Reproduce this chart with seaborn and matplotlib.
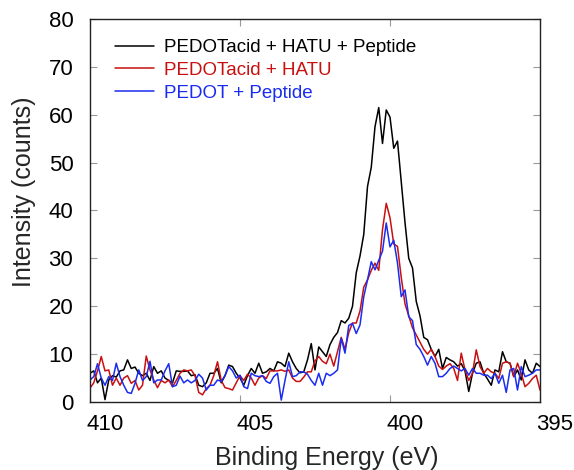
import numpy as np
import pandas as pd
import matplotlib
matplotlib.use("Agg")
import matplotlib.pyplot as plt
import matplotlib.transforms as mtransforms
import seaborn as sns

# ---- data ----
energy_start = 410.0   # eV, first channel
energy_step = 0.125    # eV per channel (decreasing binding energy)

black_counts = [
    6.0, 6.5, 4.0, 5.0, 0.5, 4.6, 5.5, 5.2, 6.5, 6.7, 8.8, 7.0, 7.3, 6.0, 5.5, 6.0, 4.5, 7.4, 6.0, 6.5, 5.0, 4.5, 4.0, 6.5,
    6.4, 6.4, 6.5, 5.5, 5.7, 3.5, 3.2, 4.0, 6.0, 6.0, 7.0, 4.0, 5.5, 7.7, 7.4, 6.0, 5.0, 3.5, 5.5, 7.0, 6.0, 8.1, 6.0, 6.3,
    7.0, 6.5, 8.4, 8.1, 7.4, 10.2, 8.4, 7.0, 6.1, 6.3, 8.8, 12.2, 6.7,
    11.5, 10.5, 9.5, 12, 13.5, 14.5, 17, 16.5, 17.5, 20, 27, 30.5, 35, 45, 49, 57.5, 61.5, 54, 61, 59.5,
    53, 54.5, 46, 37.5, 30, 28, 21, 18, 13.5, 13, 11, 9.5, 11,
    7, 9.3, 8.8, 8.4, 7.5, 8, 6.5, 2.2, 6.0, 8.1, 8.4, 6.0, 4.8, 3.5, 6.7, 6.3, 10.5, 8.4, 8.1, 5.3,
    6.7, 4.6, 8.8, 6.7, 6.0, 8.1, 7.4,
]
red_counts = [
    2.9, 4.0, 6.5, 9.5, 6.5, 6.7, 3.5, 5.0, 3.5, 5.0, 5.5, 3.9, 4.5, 2.5, 3.5, 9.6, 6.7, 4.6, 3.0, 4.5, 4.0, 4.6, 3.2, 4.5,
    6.0, 6.7, 6.5, 6.7, 5.5, 2.0, 1.5, 2.8, 3.5, 5.5, 8.4, 4.5, 3.0, 2.8, 2.5, 4.0, 5.5, 4.5, 5.8, 5.0, 3.5, 5.0, 5.5, 4.9,
    6.5, 6.5, 6.5, 6.7, 6.4, 6.7, 5.0, 4.3, 4.3, 5.2, 6.3, 6.3, 8.6,
    9.5, 8.5, 8, 10, 7.5, 10.5, 13.5, 11, 14.5, 16.5, 16.5, 19, 24, 25.5, 27.5, 29, 27.5, 36, 41.5, 38.5,
    33, 32.5, 26, 20.5, 18, 15.5, 14, 12.5, 11, 10, 11, 9.5, 7.5,
    6.8, 7.5, 8, 7, 4.5, 10.2, 6.7, 4.5, 6.0, 10.9, 7.4, 6.0, 7.0, 6.3, 6.0, 4.9, 8.1, 8.4, 8.1, 5.3,
    8.1, 6.0, 3.2, 3.9, 4.9, 5.6, 2.5,
]
blue_counts = [
    4.6, 5.3, 8.0, 5.0, 3.5, 5.3, 4.5, 8.1, 5.3, 3.5, 2.0, 1.8, 3.9, 6.7, 4.5, 5.3, 8.5, 4.0, 4.6, 4.6, 6.5, 8.0, 3.2, 3.5,
    5.4, 4.0, 4.6, 4.0, 4.5, 5.8, 5.0, 2.5, 3.5, 3.5, 4.6, 4.3, 5.5, 7.4, 6.5, 5.0, 5.6, 3.2, 2.8, 6.0, 5.5, 5.3, 5.5, 4.3,
    3.9, 5.3, 6.0, 0.4, 4.5, 8.4, 5.3, 5.5, 6.3, 6.3, 5.8, 4.5, 3.5,
    6, 3.5, 6, 5.5, 6, 6.7, 13.3, 10.2, 16, 16.4, 14.3, 16.1, 22, 25.5, 29.3, 27.6, 29.6, 31.5, 37.4, 32.4,
    33.8, 29, 22, 23.4, 17.8, 17, 12, 11, 9.5, 7.7, 9.5, 8.1, 5.3,
    5.3, 6, 7, 7.5, 7, 6.5, 7, 5.6, 7, 6.0, 6.0, 5.6, 5.6, 4.9, 6.0, 3.9, 5.6, 2, 6.7, 7,
    2.5, 7.4, 5.3, 5.6, 6.0, 6.7, 6.7,
]
series_names = ["PEDOTacid + HATU + Peptide", "PEDOTacid + HATU", "PEDOT + Peptide"]
series_colors = ["#000000", "#c81010", "#1a2cf0"]
x_ticks = [410, 405, 400, 395]
y_ticks = [0, 10, 20, 30, 40, 50, 60, 70, 80]
x_label = "Binding Energy (eV)"
y_label = "Intensity (counts)"

# ---- long table ----
frames = []
for name, vals in zip(series_names, [black_counts, red_counts, blue_counts]):
    n = len(vals)
    energy = energy_start - energy_step * np.arange(n)
    frames.append(pd.DataFrame({"energy": energy, "counts": vals, "series": name}))
df = pd.concat(frames, ignore_index=True)

sns.set_style("ticks")
plt.rcParams["font.family"] = ["Liberation Sans", "DejaVu Sans"]

W, H = 574, 470
fig = plt.figure(figsize=(W / 100, H / 100), dpi=100)
ax = fig.add_axes([90 / W, 1 - 402 / H, 450 / W, 383 / H])

sns.lineplot(data=df, x="energy", y="counts", hue="series", hue_order=series_names,
             palette=dict(zip(series_names, series_colors)), estimator=None,
             sort=False, linewidth=1.1, ax=ax)

ax.set_xlim(410, 395)
ax.set_ylim(0, 80)
ax.set_xticks(x_ticks)
ax.set_yticks(y_ticks)
ax.set_xticklabels([str(t) for t in x_ticks])
ax.set_yticklabels([str(t) for t in y_ticks])
ax.tick_params(axis="both", direction="in", length=5, width=0.8, color="#999999",
               labelsize=16, top=True, right=True, labelcolor="black")
ax.tick_params(axis="x", pad=9)
ax.tick_params(axis="y", pad=12)
for sp in ax.spines.values():
    sp.set_color("#222222")
    sp.set_linewidth(1.0)

# x tick labels in the reference sit slightly to the right of their ticks
shift = mtransforms.ScaledTranslation(15 / 100, 0, fig.dpi_scale_trans)
for lbl in ax.get_xticklabels():
    lbl.set_transform(lbl.get_transform() + shift)

ax.set_xlabel(x_label, fontsize=18)
ax.set_ylabel(y_label, fontsize=18)
ax.xaxis.set_label_coords(0.5 + 12 / 450, -0.115)
ax.yaxis.set_label_coords(-0.12, 0.548)

handles, labels = ax.get_legend_handles_labels()
leg = ax.legend(handles, labels, frameon=False, loc="upper left",
                bbox_to_anchor=(115 / W, 1 - 39 / H), bbox_transform=fig.transFigure,
                fontsize=13.5, handlelength=2.1, handletextpad=0.5, labelspacing=0.3,
                borderpad=0, borderaxespad=0)
for t, c in zip(leg.get_texts(), series_colors):
    t.set_color(c)
for h in leg.get_lines():
    h.set_linewidth(1.1)

fig.savefig("out.png", dpi=100)
